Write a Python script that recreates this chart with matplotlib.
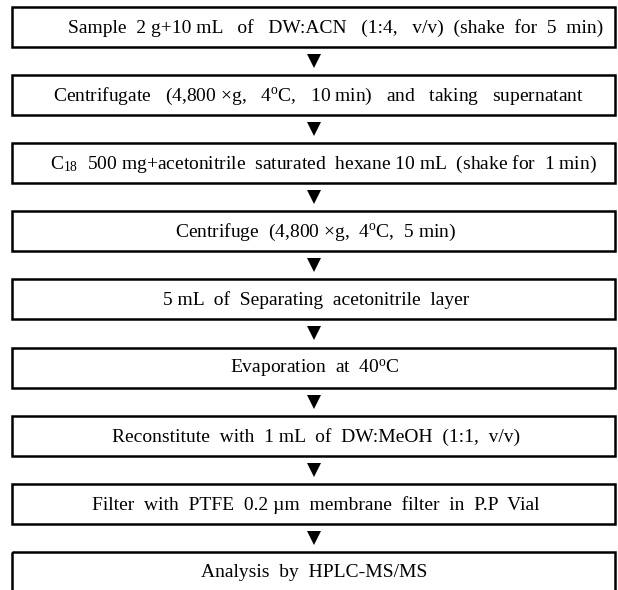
import matplotlib
matplotlib.use('Agg')
import matplotlib.pyplot as plt
from matplotlib.patches import Rectangle

plt.rcParams['font.family'] = ['Liberation Serif', 'DejaVu Serif']
plt.rcParams['mathtext.fontset'] = 'custom'
plt.rcParams['mathtext.rm'] = 'Liberation Serif'
plt.rcParams['mathtext.it'] = 'Liberation Serif:italic'

# steps of the sample preparation
steps = [
    'Sample  2 g+10 mL   of   DW:ACN   (1:4,   v/v)  (shake  for  5  min)',
    'Centrifugate   (4,800 \u00d7g,   4$^{\\mathrm{o}}$C,   10 min)   and   taking   supernatant',
    '$\\mathrm{C}_{18}$  500 mg+acetonitrile  saturated  hexane 10 mL  (shake for  1 min)',
    'Centrifuge  (4,800 \u00d7g,  4$^{\\mathrm{o}}$C,  5 min)',
    '5 mL  of  Separating  acetonitrile  layer',
    'Evaporation  at  40$^{\\mathrm{o}}$C',
    'Reconstitute  with  1 mL  of  DW:MeOH  (1:1,  v/v)',
    'Filter  with  PTFE  0.2 \u00b5m  membrane  filter  in  P.P  Vial',
    'Analysis  by  HPLC-MS/MS',
]

# horizontal centre of each label (pixels)
text_x = [336, 319, 323, 316, 316, 315, 316, 316, 314]

W, H = 618, 590
fig = plt.figure(figsize=(W / 100, H / 100), dpi=100)
ax = fig.add_axes([0, 0, 1, 1])
ax.set_xlim(0, W)
ax.set_ylim(H, 0)
ax.axis('off')

left, right = 12, 615
top0, box_h, pitch = 7, 40, 68.1
cx = (left + right) / 2

for i, s in enumerate(steps):
    top = top0 + i * pitch
    ax.add_patch(Rectangle((left, top), right - left, box_h, fill=False,
                           edgecolor='black', linewidth=1.8))
    ax.text(text_x[i], top + box_h / 2 + 1, s, ha='center', va='center', fontsize=14)
    if i < len(steps) - 1:
        ay = top + box_h + (pitch - box_h) / 2
        ax.plot([cx], [ay], marker='v', markersize=10.5, color='black',
                markeredgewidth=0)

fig.savefig('out.png', dpi=100)
